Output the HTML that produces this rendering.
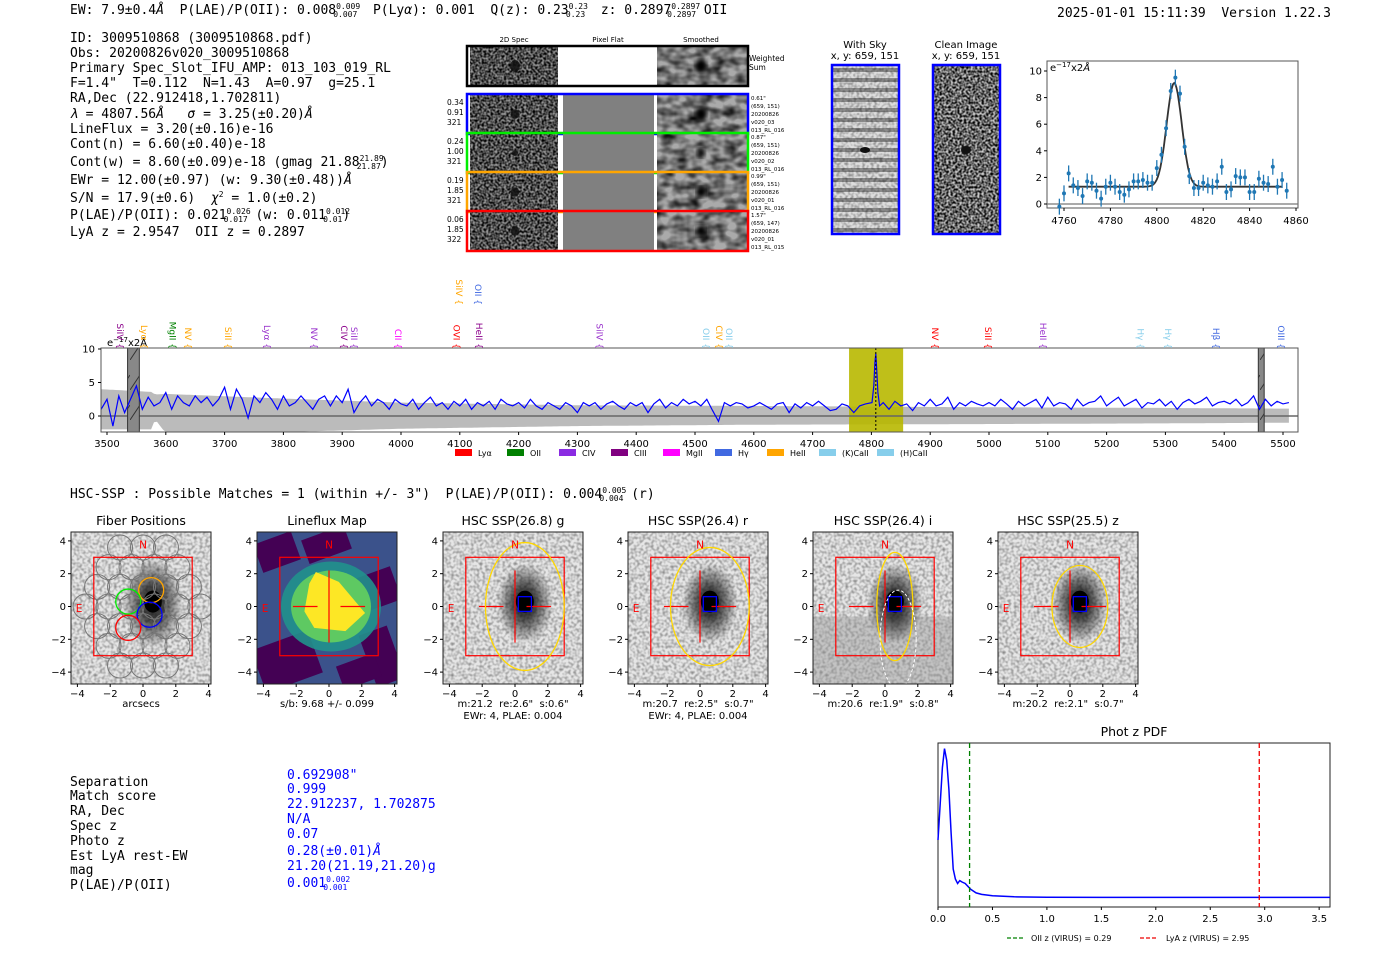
<!DOCTYPE html>
<html><head><meta charset="utf-8"><title>ELiXer report 3009510868</title>
<style>
html,body{margin:0;padding:0;background:#fff;}
svg{display:block;font-family:"DejaVu Sans","Liberation Sans",sans-serif;}
svg text{white-space:pre;}
.m{font-family:"DejaVu Sans Mono","Liberation Mono",monospace;font-size:13px;fill:#000;}
.b{fill:#0000ff;}
.t{font-size:10px;fill:#000;}
.s{font-size:7px;fill:#000;}
.ti{font-size:12.5px;fill:#000;}
</style></head>
<body>
<svg id="fig" width="1400" height="953" viewBox="0 0 1400 953" xmlns="http://www.w3.org/2000/svg" xml:space="preserve">
<defs>
<filter id="noiseF" x="0" y="0" width="100%" height="100%"><feTurbulence type="fractalNoise" baseFrequency="0.45" numOctaves="1" seed="3"/><feColorMatrix type="matrix" values="0 0 0 0 0  0 0 0 0 0  0 0 0 0 0  0 0 0 -2.2 1.6"/></filter>
<filter id="smoothF" x="0" y="0" width="100%" height="100%"><feTurbulence type="fractalNoise" baseFrequency="0.08 0.12" numOctaves="2" seed="7"/><feColorMatrix type="matrix" values="0 0 0 0 0  0 0 0 0 0  0 0 0 0 0  0 0 0 -1.6 1.1"/></filter>
<filter id="lightF" x="0" y="0" width="100%" height="100%"><feTurbulence type="fractalNoise" baseFrequency="0.35" numOctaves="1" seed="11"/><feColorMatrix type="matrix" values="0 0 0 0 0  0 0 0 0 0  0 0 0 0 0  0 0 0 -0.9 0.55"/></filter>
<filter id="blurF"><feGaussianBlur stdDeviation="2.5"/></filter>
<radialGradient id="blobG"><stop offset="0" stop-color="#000" stop-opacity="1"/><stop offset="0.35" stop-color="#111" stop-opacity="0.9"/><stop offset="1" stop-color="#000" stop-opacity="0"/></radialGradient>
<pattern id="hatch" width="10" height="30" patternUnits="userSpaceOnUse"><rect width="10" height="30" fill="#888"/><line x1="0" y1="30" x2="10" y2="15" stroke="#333" stroke-width="1"/></pattern>
</defs>

<text class="m" x="70" y="14">EW: 7.9±0.4<tspan font-style="italic">Å</tspan>  P(LAE)/P(OII): 0.008<tspan font-size="8" dy="-5">0.009</tspan><tspan font-size="8" dx="-27" dy="8">0.007</tspan><tspan dy="-3">  P(Ly</tspan><tspan font-style="italic">α</tspan>): 0.001  Q(z): 0.23<tspan font-size="8" dy="-5">0.23</tspan><tspan font-size="8" dx="-22" dy="8">0.23</tspan><tspan dy="-3">  z: 0.2897</tspan><tspan font-size="8" dy="-5">0.2897</tspan><tspan font-size="8" dx="-33" dy="8">0.2897</tspan><tspan dy="-3"> OII</tspan></text>
<text class="m" x="1057" y="17">2025-01-01 15:11:39  Version 1.22.3</text>

<g>
<text class="m" x="70" y="42">ID: 3009510868 (3009510868.pdf)</text>
<text class="m" x="70" y="57">Obs: 20200826v020_3009510868</text>
<text class="m" x="70" y="72">Primary Spec_Slot_IFU_AMP: 013_103_019_RL</text>
<text class="m" x="70" y="87">F=1.4"  T=0.112  N=1.43  A=0.97  g=25.1</text>
<text class="m" x="70" y="102">RA,Dec (22.912418,1.702811)</text>
<text class="m" x="70" y="118"><tspan font-style="italic">λ</tspan> = 4807.56<tspan font-style="italic">Å</tspan>   <tspan font-style="italic">σ</tspan> = 3.25(±0.20)<tspan font-style="italic">Å</tspan></text>
<text class="m" x="70" y="133">LineFlux = 3.20(±0.16)e-16</text>
<text class="m" x="70" y="148">Cont(n) = 6.60(±0.40)e-18</text>
<text class="m" x="70" y="166">Cont(w) = 8.60(±0.09)e-18 (gmag 21.88<tspan font-size="8" dy="-5">21.89</tspan><tspan font-size="8" dx="-27" dy="8">21.87</tspan><tspan dy="-3">)</tspan></text>
<text class="m" x="70" y="184">EWr = 12.00(±0.97) (w: 9.30(±0.48))<tspan font-style="italic">Å</tspan></text>
<text class="m" x="70" y="202">S/N = 17.9(±0.6)  <tspan font-style="italic">χ</tspan><tspan font-size="8" dy="-5">2</tspan><tspan dy="5"> = 1.0(±0.2)</tspan></text>
<text class="m" x="70" y="219">P(LAE)/P(OII): 0.021<tspan font-size="8" dy="-5">0.026</tspan><tspan font-size="8" dx="-27" dy="8">0.017</tspan><tspan dy="-3"> (w: 0.011</tspan><tspan font-size="8" dy="-5">0.012</tspan><tspan font-size="8" dx="-27" dy="8">0.01</tspan><tspan dy="-3">)</tspan></text>
<text class="m" x="70" y="236">LyA z = 2.9547  OII z = 0.2897</text>
</g>

<g id="cutouts">
<text class="s" x="514" y="42" text-anchor="middle">2D Spec</text>
<text class="s" x="608" y="42" text-anchor="middle">Pixel Flat</text>
<text class="s" x="701" y="42" text-anchor="middle">Smoothed</text>
</g>

<g>
<text class="t" x="865" y="48" text-anchor="middle">With Sky</text>
<text class="t" x="865" y="59" text-anchor="middle">x, y: 659, 151</text>
<rect x="832" y="65" width="67" height="169" fill="#ddd"/>
<g id="skyStripes"></g>
<rect x="832" y="65" width="67" height="169" filter="url(#lightF)"/>
<rect x="832" y="65" width="67" height="169" fill="none" stroke="#00f" stroke-width="2.5"/>
<text class="t" x="966" y="48" text-anchor="middle">Clean Image</text>
<text class="t" x="966" y="59" text-anchor="middle">x, y: 659, 151</text>
<rect x="933" y="65" width="67" height="169" fill="#ccc"/>
<rect x="933" y="65" width="67" height="169" filter="url(#noiseF)"/>
<ellipse cx="966" cy="150" rx="5" ry="4" fill="#111"/>
<rect x="933" y="65" width="67" height="169" fill="none" stroke="#00f" stroke-width="2.5"/>
</g>

<g id="fitplot"></g>
<g id="spectrum"></g>

<text class="m" x="70" y="498">HSC-SSP : Possible Matches = 1 (within +/- 3")  P(LAE)/P(OII): 0.004<tspan font-size="8" dy="-5">0.005</tspan><tspan font-size="8" dx="-27" dy="8">0.004</tspan><tspan dy="-3"> (r)</tspan></text>

<g id="panels"></g>

<g>
<text class="m" x="70" y="786">Separation</text><text class="m b" x="287" y="779">0.692908"</text>
<text class="m" x="70" y="800">Match score</text><text class="m b" x="287" y="793">0.999</text>
<text class="m" x="70" y="815">RA, Dec</text><text class="m b" x="287" y="808">22.912237, 1.702875</text>
<text class="m" x="70" y="830">Spec z</text><text class="m b" x="287" y="823">N/A</text>
<text class="m" x="70" y="845">Photo z</text><text class="m b" x="287" y="838">0.07</text>
<text class="m" x="70" y="860">Est LyA rest-EW</text><text class="m b" x="287" y="855">0.28(±0.01)<tspan font-style="italic">Å</tspan></text>
<text class="m" x="70" y="874">mag</text><text class="m b" x="287" y="870">21.20(21.19,21.20)g</text>
<text class="m" x="70" y="889">P(LAE)/P(OII)</text><text class="m b" x="287" y="887">0.001<tspan font-size="8" dy="-5">0.002</tspan><tspan font-size="8" dx="-27" dy="8">0.001</tspan></text>
</g>

<g id="photz"></g>
</svg>

<script>
const NS="http://www.w3.org/2000/svg";
function mk(parent,tag,attrs,txt){const e=document.createElementNS(NS,tag);for(const k in attrs)e.setAttribute(k,attrs[k]);if(txt!==undefined)e.textContent=txt;parent.appendChild(e);return e;}

const fitWave=[4758,4760,4762,4764,4766,4768,4770,4772,4774,4776,4778,4780,4782,4784,4786,4788,4790,4792,4794,4796,4798,4800,4802,4804,4806,4808,4810,4812,4814,4816,4818,4820,4822,4824,4826,4828,4830,4832,4834,4836,4838,4840,4842,4844,4846,4848,4850,4852,4854,4856];
const fitFlux=[-0.2,0.8,2.3,1.4,1.2,0.6,1.7,1.6,1.0,0.4,1.3,1.6,1.3,0.9,0.7,1.1,1.7,1.7,1.8,1.6,1.6,2.7,3.7,5.7,8.5,9.5,8.3,4.3,2.1,1.2,1.2,1.6,1.4,1.3,1.7,2.8,0.9,1.1,2.1,2.0,2.0,0.9,0.9,1.9,1.6,1.5,2.8,1.3,1.8,1.0];
const fitErr=[0.6,0.6,0.6,0.6,0.6,0.6,0.6,0.6,0.6,0.6,0.6,0.6,0.6,0.6,0.6,0.6,0.6,0.6,0.6,0.6,0.6,0.6,0.6,0.6,0.6,0.6,0.6,0.6,0.6,0.6,0.6,0.6,0.6,0.6,0.6,0.6,0.6,0.6,0.6,0.6,0.6,0.6,0.6,0.6,0.6,0.6,0.6,0.6,0.6,0.6];
const fitModel=[1.3,7.8,4807.5,3.25];
const fitXTicks=[4760,4780,4800,4820,4840,4860];
const fitYTicks=[0,2,4,6,8,10];

(function(){
 const g=document.getElementById('fitplot');
 const L=1047,R=1298,T=61,B=208;
 const X=w=>1064+(w-4760)*2.32, Y=v=>204-v*13.3;
 const fr=mk(g,'rect',{x:L,y:T,width:R-L,height:B-T,fill:'#fff',stroke:'#555','stroke-width':1});
 
 
 mk(g,'line',{x1:L,x2:R,y1:Y(0),y2:Y(0),stroke:'#777','stroke-width':1.2});
 fitXTicks.forEach(t=>{mk(g,'line',{x1:X(t),x2:X(t),y1:B,y2:B+3,stroke:'#000'});
  const tx=mk(g,'text',{x:X(t),y:B+16,'text-anchor':'middle',class:'t'},t);
  
  });
 fitYTicks.forEach(t=>{mk(g,'line',{x1:L-3,x2:L,y1:Y(t),y2:Y(t),stroke:'#000'});
  const tx=mk(g,'text',{x:L-5,y:Y(t)+3.5,'text-anchor':'end',class:'t'},t);
  
  });
 const u=mk(g,'text',{x:L+3,y:T+10,class:'t'},'e');
 mk(u,'tspan',{'font-size':7,dy:-4},'−17');mk(u,'tspan',{dy:4},'x2');mk(u,'tspan',{'font-style':'italic'},'Å');
 
 
 let d='';for(let w=4762;w<=4854;w+=0.5){const v=fitModel[0]+fitModel[1]*Math.exp(-0.5*Math.pow((w-fitModel[2])/fitModel[3],2));d+=(d?'L':'M')+X(w).toFixed(1)+','+Y(v).toFixed(1);}
 const fl=mk(g,'path',{d:d,fill:'none',stroke:'#333','stroke-width':1.8});
 
 
 fitWave.forEach((w,i)=>{
  mk(g,'line',{x1:X(w),x2:X(w),y1:Y(fitFlux[i]-fitErr[i]),y2:Y(fitFlux[i]+fitErr[i]),stroke:'#1f77b4','stroke-width':1.3});
  const c=mk(g,'circle',{cx:X(w),cy:Y(fitFlux[i]),r:2,fill:'#1f77b4'});
  
  
 });
})();

const specFlux=[1.0,2.5,-1.5,3.0,0.5,2.5,4.5,1.0,2.8,1.5,2.0,
3.5,1.0,3.0,2.0,1.5,3.0,2.0,2.8,1.5,2.5,4.3,
1.0,4.0,2.5,-0.3,3.0,2.0,3.5,2.5,1.0,3.0,
1.5,2.0,3.0,2.0,1.0,2.5,3.0,1.5,3.0,2.0,
4.0,0.5,2.0,3.0,1.5,2.5,2.0,1.0,2.5,1.8,
1.5,2.5,1.0,2.0,2.8,1.5,2.0,1.0,2.2,1.5,
2.5,1.0,2.0,1.5,2.2,1.0,2.5,1.8,1.5,2.0,
1.2,2.5,1.5,1.0,2.0,1.5,1.0,2.0,1.5,0.5,
2.0,1.5,2.0,1.0,1.8,2.2,1.5,1.0,2.0,1.5,
2.0,0.5,1.8,2.5,1.2,2.0,1.5,2.5,1.8,2.2,
1.5,2.5,0.8,-0.8,2.0,1.5,2.0,1.8,1.2,1.5,
2.0,1.5,1.0,1.8,2.0,0.5,1.8,1.2,2.0,1.5,
2.2,1.5,0.8,1.0,1.8,1.5,0.5,1.5,1.8,1.2,
1.5,2.0,1.0,2.2,1.5,1.8,0.8,2.0,1.5,2.5,1.5,1.8,2.8,1.0,2.0,1.5,2.2,1.8,1.5,
2.0,1.5,2.5,1.8,1.0,2.2,1.5,2.0,2.5,1.2,2.8,1.5,2.0,1.8,1.0,2.5,1.5,2.0,2.2,3.0,
1.5,2.2,2.8,1.5,2.0,2.5,1.2,2.0,1.8,2.5,1.5,2.2,1.0,2.0,2.5,1.8,2.2,2.8,1.5,2.0,
2.2,1.8,2.5,1.5,2.0,3.0,1.0,2.5,1.5,2.2,1.8,2.0];
const specStart=3490, specStep=10;
const peakWave=[4801,4804,4806,4807.5,4809,4811,4814];
const peakFlux=[2.0,4.5,8.0,9.3,7.0,3.5,1.5];
const errWave=[3490,3575,3582,3600,3800,4000,4300,4600,5000,5300,5510];
const errUp=[4.0,3.6,3.2,3.3,2.6,2.0,1.6,1.5,1.3,1.2,1.1];
const errLo=[-2.0,-2.0,-0.5,-2.6,-2.4,-1.9,-1.5,-1.3,-1.2,-1.1,-1.0];
const specXTicks=[3500,3600,3700,3800,3900,4000,4100,4200,4300,4400,4500,4600,4700,4800,4900,5000,5100,5200,5300,5400,5500];
const specYTicks=[0,5,10];
const lineNames=["SiIV","Lyα","MgII","NV","SiII","Lyα","NV","CIV","SiII","CII","OVI","HeII","SiIV","OII","SiIV","OII","CIV","OII","NV","SiII","HeII","Hγ","Hγ","Hβ","OIII"];
const lineWaves=[3522,3563,3611,3638,3706,3772,3852,3903,3920,3995,4094,4133,4099,4131,4338,4519,4541,4558,4908,4998,5092,5258,5304,5386,5497];
const lineColors=["#8b008b","#ffa500","#008000","#ffa500","#ffa500","#9932cc","#9932cc","#8b008b","#9932cc","#ff00ff","#ff0000","#8b008b","#ffa500","#4169e1","#9932cc","#87ceeb","#ffa500","#87ceeb","#ff0000","#ff0000","#9932cc","#87ceeb","#87ceeb","#4169e1","#4169e1"];
const lineRow=[0,0,0,0,0,0,0,0,0,0,0,0,1,1,0,0,0,0,0,0,0,0,0,0,0];
const legendNames=["Lyα","OII","CIV","CIII","MgII","Hγ","HeII","(K)CaII","(H)CaII"];
const legendColors=["#ff0000","#008000","#8a2be2","#800080","#ff00ff","#4169e1","#ffa500","#87ceeb","#87ceeb"];

(function(){
 const g=document.getElementById('spectrum');
 const L=101,R=1298,T=348,B=432;
 const X=w=>107+(w-3500)*0.588, Y=v=>416-v*6.7;
 mk(g,'rect',{x:L,y:T,width:R-L,height:B-T,fill:'#fff'});
 let up=[],lo=[];
 for(let w=3490;w<=5510;w+=5){let i=0;while(i<errWave.length-2&&errWave[i+1]<w)i++;const f=(w-errWave[i])/(errWave[i+1]-errWave[i]);
  up.push([X(w),Y(errUp[i]+f*(errUp[i+1]-errUp[i]))]);lo.push([X(w),Y(errLo[i]+f*(errLo[i+1]-errLo[i]))]);}
 let d='M'+up.map(p=>p[0].toFixed(1)+','+Math.max(T,p[1]).toFixed(1)).join('L')+'L'+lo.reverse().map(p=>p[0].toFixed(1)+','+Math.min(B,p[1]).toFixed(1)).join('L')+'Z';
 const band=mk(g,'path',{d:d,fill:'#bbb'});
 
 
 const hl=mk(g,'rect',{x:X(4762),y:T,width:X(4854)-X(4762),height:B-T,fill:'#b8b800',opacity:0.9});
 
 
 mk(g,'line',{x1:L,x2:R,y1:Y(0),y2:Y(0),stroke:'#666','stroke-width':1.5});
 [[3535,3555],[5458,5468]].forEach(r=>{const m=mk(g,'rect',{x:X(r[0]),y:T,width:X(r[1])-X(r[0]),height:B-T,fill:'url(#hatch)',stroke:'#333'});
  
  });
 let pts=specFlux.map((v,i)=>[specStart+specStep*i,v]).filter(p=>p[0]<4800||p[0]>4815);
 peakWave.forEach((w,i)=>pts.push([w,peakFlux[i]]));pts.sort((a,b)=>a[0]-b[0]);
 d=pts.map((p,i)=>(i?'L':'M')+X(p[0]).toFixed(1)+','+Y(p[1]).toFixed(1)).join('');
 const sl=mk(g,'path',{d:d,fill:'none',stroke:'#0000ff','stroke-width':1.2});
 
 
 mk(g,'line',{x1:X(4807.5),x2:X(4807.5),y1:T,y2:B,stroke:'#000','stroke-dasharray':'2,2'});
 mk(g,'rect',{x:L,y:T,width:R-L,height:B-T,fill:'none',stroke:'#555'});
 specXTicks.forEach(t=>{mk(g,'line',{x1:X(t),x2:X(t),y1:B,y2:B+3,stroke:'#000'});
  const tx=mk(g,'text',{x:X(t),y:B+15,'text-anchor':'middle',class:'t'},t);
  
  });
 specYTicks.forEach(t=>{mk(g,'line',{x1:L-3,x2:L,y1:Y(t),y2:Y(t),stroke:'#000'});
  const tx=mk(g,'text',{x:L-6,y:Y(t)+3.5,'text-anchor':'end',class:'t'},t);
  
  });
 const u=mk(g,'text',{x:107,y:346,class:'t'},'e');mk(u,'tspan',{'font-size':7,dy:-4},'−17');mk(u,'tspan',{dy:4},'x2Å');
 lineNames.forEach((n,i)=>{const x=X(lineWaves[i]),y=lineRow[i]?305:349;
  const tx=mk(g,'text',{x:0,y:0,transform:`translate(${x-3},${y}) rotate(90)`,'text-anchor':'end',style:`font-size:9px;fill:${lineColors[i]}`},n+' {');
  
  });
 let lx=455;
 legendNames.forEach((n,i)=>{const r=mk(g,'rect',{x:lx,y:449,width:17,height:7,fill:legendColors[i]});
  
  
  const tx=mk(g,'text',{x:lx+23,y:456,style:'font-size:8px'},n);
  
  
  lx+=(n.length>5?58:52);});
})();

(function(){
 const g=document.getElementById('cutouts');
 const rows=[{y:47,c:'#000',lab:null,info:null,blob:[1,1]},
  {y:95,c:'#0000ff',lab:['0.34','0.91','321'],info:['0.61"','(659, 151)','20200826','v020_03','013_RL_016'],blob:[0.8,1]},
  {y:134,c:'#00ee00',lab:['0.24','1.00','321'],info:['0.87"','(659, 151)','20200826','v020_02','013_RL_016'],blob:[0.5,0.7]},
  {y:173,c:'#ffa500',lab:['0.19','1.85','321'],info:['0.99"','(659, 151)','20200826','v020_01','013_RL_016'],blob:[0.8,0.8]},
  {y:212,c:'#ff0000',lab:['0.06','1.85','322'],info:['1.57"','(659, 147)','20200826','v020_01','013_RL_015'],blob:[0.8,0.8]}];
 rows.forEach((r,i)=>{const h=38;
  const sub=mk(g,'g',{});
  
  
  mk(sub,'rect',{x:470,y:r.y,width:88,height:h,fill:'#999'});
  mk(sub,'rect',{x:470,y:r.y,width:88,height:h,filter:'url(#noiseF)'});
  mk(sub,'ellipse',{cx:515,cy:r.y+h/2,rx:4*r.blob[0]+1,ry:6*r.blob[0],fill:'#111',opacity:0.85});
  mk(sub,'rect',{x:563,y:r.y,width:91,height:h,fill:i?'#808080':'#fff'});
  mk(sub,'rect',{x:657,y:r.y,width:90,height:h,fill:'#aaa'});
  mk(sub,'rect',{x:657,y:r.y,width:90,height:h,filter:'url(#smoothF)'});
  mk(sub,'ellipse',{cx:701,cy:r.y+h/2,rx:6*r.blob[1],ry:7*r.blob[1],fill:'#000',filter:'url(#blurF)'});
  mk(sub,'rect',{x:467,y:r.y-1,width:281,height:h+2,fill:'none',stroke:r.c,'stroke-width':2.5});
  if(r.lab){r.lab.forEach((t,k)=>mk(sub,'text',{x:447,y:r.y+10+k*10,style:'font-size:7.5px'},t));
   r.info.forEach((t,k)=>mk(sub,'text',{x:751,y:r.y+5+k*8,style:'font-size:5.5px'},t));}
  else{mk(sub,'text',{x:749,y:r.y+14,style:'font-size:7.5px'},'Weighted');mk(sub,'text',{x:749,y:r.y+23,style:'font-size:7.5px'},'Sum');}
 });
 const sk=document.getElementById('skyStripes');
 for(let y=68;y<232;y+=10){mk(sk,'rect',{x:832,y:y,width:67,height:4,fill:'#555',opacity:0.6});}
 mk(sk,'ellipse',{cx:865,cy:150,rx:5,ry:3,fill:'#111'});
})();

const panelTitles=["Fiber Positions","Lineflux Map","HSC SSP(26.8) g","HSC SSP(26.4) r","HSC SSP(26.4) i","HSC SSP(25.5) z"];
const panelCaptions=[["arcsecs"],["s/b: 9.68 +/- 0.099"],['m:21.2  re:2.6"  s:0.6"','EWr: 4, PLAE: 0.004'],['m:20.7  re:2.5"  s:0.7"','EWr: 4, PLAE: 0.004'],['m:20.6  re:1.9"  s:0.8"'],['m:20.2  re:2.1"  s:0.7"']];
const panelZero=[143,329,515,700,885,1070];
const panelTicks=[-4,-2,0,2,4];
const ellipseAxes=[null,null,[2.4,3.9],[2.4,3.6],[1.1,3.3],[1.7,2.5]];
const fiberX=[0.5,-0.9,0.4,-0.9];
const fiberY=[1.0,0.3,-0.5,-1.3];
const fiberColors=["#ffa500","#00ee00","#0000ff","#ff0000"];

(function(){
 const g=document.getElementById('panels');
 const s=16.4, cy0=606.5;
 panelZero.forEach((cx,p)=>{
  const sub=mk(g,'g',{});
  
  
  const L=cx-72,R=cx+68,T=532,B=684;
  const cp=mk(sub,'clipPath',{id:'cp'+p});mk(cp,'rect',{x:L,y:T,width:R-L,height:B-T});
  const im=mk(sub,'g',{'clip-path':`url(#cp${p})`});
  const X=v=>cx+v*s, Y=v=>cy0-v*s;
  if(p===1){
   mk(im,'rect',{x:L,y:T,width:R-L,height:B-T,fill:'#3b528b'});
   [[L,T+5,40,30],[cx-25,T,45,25],[R-40,T+40,40,35],[L,B-45,60,45],[R-30,B-55,30,55],[cx+10,B-25,40,25]].forEach(q=>mk(im,'rect',{x:q[0],y:q[1],width:q[2],height:q[3],fill:'#440154',transform:`rotate(-20 ${q[0]+q[2]/2} ${q[1]+q[3]/2})`}));
   mk(im,'ellipse',{cx:cx+2,cy:cy0,rx:50,ry:45,fill:'#21918c',opacity:0.9});
   mk(im,'ellipse',{cx:cx+2,cy:cy0,rx:40,ry:36,fill:'#5ec962'});
   mk(im,'path',{d:`M${X(-0.8)},${Y(2.1)} L${X(0.6)},${Y(1.5)} L${X(2.2)},${Y(-0.4)} L${X(1)},${Y(-1.5)} L${X(-0.9)},${Y(-1.3)} L${X(-1.5)},${Y(-0.3)} L${X(-1.2)},${Y(1.4)}Z`,fill:'#fde725'});
  }else{
   mk(im,'rect',{x:L,y:T,width:R-L,height:B-T,fill:'#e6e6e6'});
   mk(im,'rect',{x:L,y:T,width:R-L,height:B-T,filter:'url(#lightF)'});
   if(p===4)mk(im,'rect',{x:L,y:cy0+10,width:R-L,height:B-cy0-10,fill:'#999',opacity:0.45});
   mk(im,'ellipse',{cx:X(0.6),cy:Y(0.2),rx:p===0?30:28,ry:p===0?45:40,fill:'url(#blobG)',opacity:0.85});
   mk(im,'ellipse',{cx:X(0.6),cy:Y(0.3),rx:9,ry:11,fill:'#000'});
  }
  if(p===0){
   const rowsY=[3.6,2.4,1.2,0,-1.2,-2.4,-3.6];
   rowsY.forEach((yy,ri)=>{const off=ri%2?0.7:0;for(let xx=-4.2+off;xx<4.5;xx+=1.4){if(Math.hypot(xx,yy)<3.9)mk(im,'circle',{cx:X(xx),cy:Y(yy),r:12.5,fill:'none',stroke:'#777','stroke-width':1});}});
   fiberX.forEach((fx,i)=>{const c=mk(im,'circle',{cx:X(fx),cy:Y(fiberY[i]),r:12.5,fill:'none',stroke:fiberColors[i],'stroke-width':1.3});
    
    });
  }
  mk(im,'rect',{x:X(-3),y:Y(3),width:6*s,height:6*s,fill:'none',stroke:'#ff0000','stroke-width':1.2});
  if(p>0){mk(im,'line',{x1:X(-2.2),x2:X(-0.7),y1:Y(0),y2:Y(0),stroke:'#f00','stroke-width':1.2});
   mk(im,'line',{x1:X(0.7),x2:X(2.2),y1:Y(0),y2:Y(0),stroke:'#f00','stroke-width':1.2});
   mk(im,'line',{x1:X(0),x2:X(0),y1:Y(2.2),y2:Y(-2.2),stroke:'#f00','stroke-width':1.2});}
  if(ellipseAxes[p]){const a=ellipseAxes[p];const e=mk(im,'ellipse',{cx:X(0.6),cy:Y(0),rx:a[0]*s,ry:a[1]*s,fill:'none',stroke:'#ffd700','stroke-width':1.3});
   
   
   mk(im,'rect',{x:X(0.2),y:Y(0.6),width:0.8*s,height:0.9*s,fill:'none',stroke:'#0000ff','stroke-width':1.3});}
  if(p===4)mk(im,'ellipse',{cx:X(0.8),cy:Y(-2),rx:1.1*s,ry:3*s,fill:'none',stroke:'#fff','stroke-dasharray':'3,2'});
  mk(sub,'rect',{x:L,y:T,width:R-L,height:B-T,fill:'none',stroke:'#222'});
  mk(sub,'text',{x:X(0),y:Y(3.55),'text-anchor':'middle',style:'font-size:10.5px;fill:#f00'},'N');
  mk(sub,'text',{x:X(-3.9),y:Y(-0.35),'text-anchor':'middle',style:'font-size:10.5px;fill:#f00'},'E');
  panelTicks.forEach(t=>{mk(sub,'line',{x1:X(t),x2:X(t),y1:B,y2:B+3,stroke:'#000'});
   mk(sub,'text',{x:X(t),y:B+13,'text-anchor':'middle',class:'t'},String(t).replace('-','−'));
   mk(sub,'line',{x1:L-3,x2:L,y1:Y(t),y2:Y(t),stroke:'#000'});
   mk(sub,'text',{x:L-5,y:Y(t)+3.5,'text-anchor':'end',class:'t'},String(t).replace('-','−'));});
  const tt=mk(sub,'text',{x:cx-2,y:525,'text-anchor':'middle',class:'ti'},panelTitles[p]);
  
  
  panelCaptions[p].forEach((c,k)=>mk(sub,'text',{x:cx-2,y:707+k*12,'text-anchor':'middle',class:'t'},c));
 });
})();

const pdfZ=[0,0.02,0.04,0.06,0.08,0.1,0.12,0.14,0.16,0.18,0.2,0.22,0.25,0.3,0.35,0.4,0.5,0.7,1.0,1.5,2.0,3.0,3.6];
const pdfP=[4.0,6.5,9.0,10.3,9.5,7.5,4.5,2.0,1.3,1.0,1.2,1.1,1.0,0.6,0.35,0.25,0.15,0.08,0.05,0.04,0.04,0.04,0.04];
const pdfXTicks=[0,0.5,1.0,1.5,2.0,2.5,3.0,3.5];
const zOII=0.29, zLyA=2.95;

(function(){
 const g=document.getElementById('photz');
 const L=938,R=1330,T=743,B=907;
 const X=z=>938+z*108.9, Y=v=>898-v*14.5;
 mk(g,'rect',{x:L,y:T,width:R-L,height:B-T,fill:'#fff',stroke:'#222'});
 const tt=mk(g,'text',{x:1134,y:736,'text-anchor':'middle',class:'ti'},'Phot z PDF');
 
 
 const d=pdfZ.map((z,i)=>(i?'L':'M')+X(z).toFixed(1)+','+Y(pdfP[i]).toFixed(1)).join('');
 const pl=mk(g,'path',{d:d,fill:'none',stroke:'#0000ff','stroke-width':1.5});
 
 
 const o=mk(g,'line',{x1:X(zOII),x2:X(zOII),y1:T,y2:B,stroke:'#008000','stroke-dasharray':'5,3','stroke-width':1.3});
 
 
 const l=mk(g,'line',{x1:X(zLyA),x2:X(zLyA),y1:T,y2:B,stroke:'#e00','stroke-dasharray':'5,3','stroke-width':1.3});
 
 
 pdfXTicks.forEach(t=>{mk(g,'line',{x1:X(t),x2:X(t),y1:B,y2:B+3,stroke:'#000'});
  mk(g,'text',{x:X(t),y:B+15,'text-anchor':'middle',class:'t'},t.toFixed(1));});
 mk(g,'line',{x1:1007,x2:1025,y1:938,y2:938,stroke:'#008000','stroke-dasharray':'4,2','stroke-width':1.3});
 mk(g,'text',{x:1031,y:941,style:'font-size:8px'},'OII z (VIRUS) = 0.29');
 mk(g,'line',{x1:1140,x2:1158,y1:938,y2:938,stroke:'#e00','stroke-dasharray':'4,2','stroke-width':1.3});
 mk(g,'text',{x:1166,y:941,style:'font-size:8px'},'LyA z (VIRUS) = 2.95');
})();
</script>
</body></html>
